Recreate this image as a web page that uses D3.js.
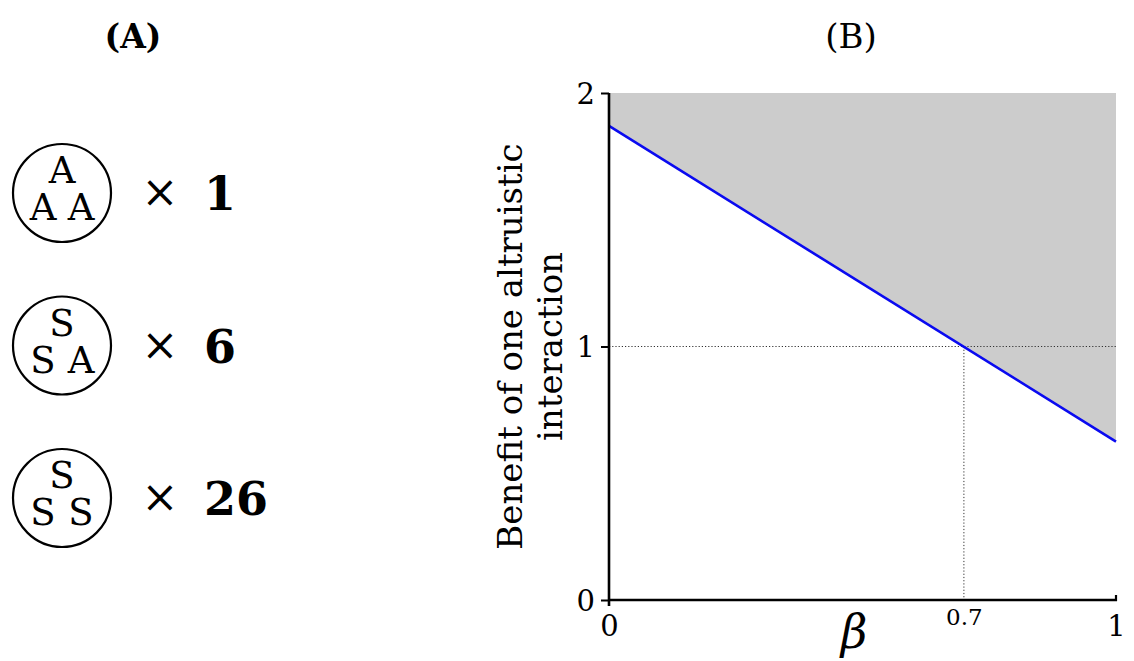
<!DOCTYPE html>
<html>
<head>
<meta charset="utf-8">
<script src="https://cdn.jsdelivr.net/npm/d3@7"></script>
<style>
  html, body { margin: 0; padding: 0; background: #fff; }
  svg { display: block; }
  text { font-family: "DejaVu Serif", serif; fill: #000; }
</style>
</head>
<body>
<svg id="chart" width="1134" height="661"></svg>
<script>
// ---- Data ----
const panelTitles = ["(A)", "(B)"];
const groupTop   = ["A", "S", "S"];
const groupLeft  = ["A", "S", "S"];
const groupRight = ["A", "A", "S"];
const groupCounts = ["1", "6", "26"];

const betaValues = [0, 1];
const benefitValues = [1.87, 0.625];
const thresholdBeta = 0.7;
const thresholdBenefit = 1;
const yTicks = [0, 1, 2];
const xTicks = [0, 0.7, 1];
const yLabelLines = ["Benefit of one altruistic", "interaction"];
const xLabel = "\u03B2";

const svg = d3.select("#chart");

// ---- Titles ----
svg.append("text").attr("x", 133).attr("y", 48).attr("text-anchor", "middle")
  .attr("font-size", 33).attr("font-weight", "bold").text(panelTitles[0]);
svg.append("text").attr("x", 851).attr("y", 48).attr("text-anchor", "middle")
  .attr("font-size", 34).text(panelTitles[1]);

// ---- Panel A ----
const rowY = d3.scalePoint().domain(d3.range(groupCounts.length)).range([193, 498]);
const cx = 62, r = 49;
const gA = svg.append("g");
groupCounts.forEach((c, i) => {
  const cy = rowY(i);
  const g = gA.append("g");
  g.append("circle").attr("cx", cx).attr("cy", cy).attr("r", r)
    .attr("fill", "none").attr("stroke", "#000").attr("stroke-width", 2.2);
  g.append("text").attr("x", cx).attr("y", cy - 10).attr("text-anchor", "middle")
    .attr("font-size", 37).text(groupTop[i]);
  g.append("text").attr("x", cx - 19).attr("y", cy + 27).attr("text-anchor", "middle")
    .attr("font-size", 37).text(groupLeft[i]);
  g.append("text").attr("x", cx + 19).attr("y", cy + 27).attr("text-anchor", "middle")
    .attr("font-size", 37).text(groupRight[i]);
  g.append("text").attr("x", 160).attr("y", cy + 14).attr("text-anchor", "middle")
    .attr("font-size", 44).text("\u00D7");
  g.append("text").attr("x", 204).attr("y", cy + 17).attr("text-anchor", "start")
    .attr("font-size", 46).attr("font-weight", "bold").text(c);
});

// ---- Panel B ----
const x = d3.scaleLinear().domain([0, 1]).range([609, 1116]);
const y = d3.scaleLinear().domain([0, 2]).range([600, 93]);

const pts = betaValues.map((b, i) => [b, benefitValues[i]]);

// shaded region above line
const area = d3.area().x(d => x(d[0])).y0(y(2)).y1(d => y(d[1]));
svg.append("path").datum(pts).attr("d", area).attr("fill", "#cccccc");

// dotted threshold lines
svg.append("line")
  .attr("x1", x(0)).attr("x2", x(1))
  .attr("y1", y(thresholdBenefit)).attr("y2", y(thresholdBenefit))
  .attr("stroke", "#333").attr("stroke-width", 1).attr("stroke-dasharray", "1.2,2");
svg.append("line")
  .attr("x1", x(thresholdBeta)).attr("x2", x(thresholdBeta))
  .attr("y1", y(thresholdBenefit)).attr("y2", y(0))
  .attr("stroke", "#333").attr("stroke-width", 1).attr("stroke-dasharray", "1.2,2");

// blue line
const line = d3.line().x(d => x(d[0])).y(d => y(d[1]));
svg.append("path").datum(pts).attr("d", line)
  .attr("fill", "none").attr("stroke", "#0a0af0").attr("stroke-width", 2.6);

// y axis
const yAxis = d3.axisLeft(y).tickValues(yTicks).tickFormat(d3.format("d"))
  .tickSizeInner(8).tickSizeOuter(0).tickPadding(6);
const gy = svg.append("g").attr("transform", `translate(${x(0)},0)`).call(yAxis);
gy.select(".domain").remove();
gy.append("line").attr("x1", 0).attr("x2", 0).attr("y1", y(2)).attr("y2", y(0) + 6)
  .attr("stroke", "#000").attr("stroke-width", 2.6);
gy.selectAll(".tick line").attr("stroke", "#000").attr("stroke-width", 2);
gy.selectAll(".tick text").attr("font-size", 29).attr("font-family", "DejaVu Serif")
  .attr("fill", "#000").attr("dy", "0.36em");

// x axis
const xAxis = d3.axisBottom(x).tickValues(xTicks)
  .tickFormat(d => d === 0.7 ? "0.7" : d3.format("d")(d))
  .tickSizeInner(0).tickSizeOuter(0).tickPadding(0);
const gx = svg.append("g").attr("transform", `translate(0,${y(0)})`).call(xAxis);
gx.select(".domain").remove();
gx.append("line").attr("x1", x(0)).attr("x2", x(1) + 1).attr("y1", 0).attr("y2", 0)
  .attr("stroke", "#000").attr("stroke-width", 2.6);
gx.append("line").attr("x1", x(1)).attr("x2", x(1)).attr("y1", 1).attr("y2", -5)
  .attr("stroke", "#000").attr("stroke-width", 2.2);
gx.selectAll(".tick line").remove();
gx.selectAll(".tick text")
  .attr("font-family", "DejaVu Serif").attr("fill", "#000")
  .attr("font-size", d => d === 0.7 ? 23 : 29)
  .attr("y", d => d === 0.7 ? 25 : 36)
  .attr("dy", 0);

// axis labels
svg.append("text").attr("x", 854).attr("y", 648).attr("text-anchor", "middle")
  .attr("font-size", 46).attr("font-style", "italic").text(xLabel);

const yMid = (y(0) + y(2)) / 2;
const gl = svg.append("g").attr("transform", `translate(0,${yMid}) rotate(-90)`);
gl.append("text").attr("x", 0).attr("y", 522).attr("text-anchor", "middle")
  .attr("font-size", 34).text(yLabelLines[0]);
gl.append("text").attr("x", 0).attr("y", 562).attr("text-anchor", "middle")
  .attr("font-size", 34).text(yLabelLines[1]);
</script>
</body>
</html>
